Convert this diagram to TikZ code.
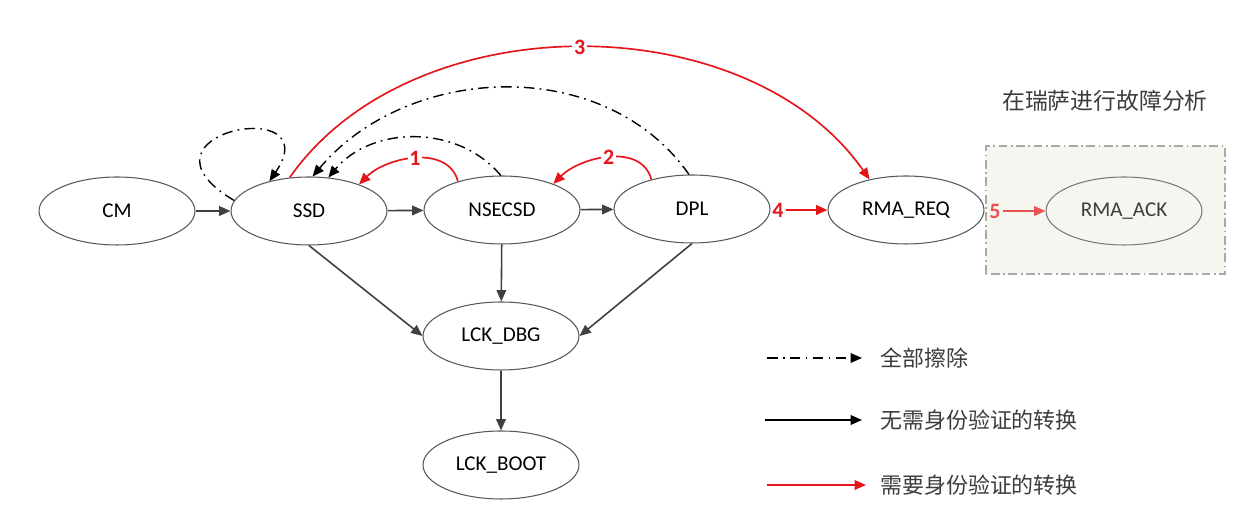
\documentclass[tikz,border=0pt]{standalone}
\usepackage{fontspec}
\setmainfont{Carlito}
\newfontfamily\cjk{Noto Sans CJK SC}
\usetikzlibrary{shapes.geometric,arrows.meta,positioning}
\definecolor{authred}{RGB}{228,22,28}
\definecolor{fadered}{RGB}{232,84,84}
\definecolor{edgegray}{RGB}{64,64,64}
\definecolor{stategray}{RGB}{88,88,88}
\definecolor{boxfill}{RGB}{245,246,240}
\definecolor{boxedge}{RGB}{170,170,165}
\definecolor{legtext}{RGB}{60,60,60}

\begin{document}
\begin{tikzpicture}[x=.02cm,y=.02cm,
    state/.style={ellipse,draw=stategray,line width=.6pt,minimum width=3.12cm,
        minimum height=1.36cm,inner sep=0pt,font=\fontsize{12}{14}\selectfont},
    tip/.style={-{Triangle[length=6.5pt,width=5.5pt]}},
    plain/.style={tip,draw=edgegray,line width=.9pt},
    auth/.style={tip,draw=authred,line width=.95pt},
    erase/.style={tip,draw=black,line width=.8pt,
        dash pattern=on 6pt off 3pt on 1pt off 3pt},
    num/.style={text=authred,inner sep=1pt,
        font=\bfseries\fontsize{12.5}{14}\selectfont},
    legend/.style={right,text=legtext,font=\cjk\fontsize{12.5}{15}\selectfont}]
\useasboundingbox (0,0) rectangle (1258,513);

\fill[boxfill] (986,239) rectangle (1225,367);
\draw[boxedge,line width=.6pt,dash pattern=on 5pt off 2pt on 1pt off 2pt]
    (986,239) rectangle (1225,367);
\node (renesas) [text=legtext,font=\cjk\fontsize{13}{15}\selectfont]
    at (1105,412) {在瑞萨进行故障分析};

\node (cm) [state] at (117,302) {CM};
\node (ssd) [state] at (309,302) {SSD};
\node (nsecsd) [state] at (502,303) {NSECSD};
\node (dpl) [state] at (692,304) {DPL};
\node (rmareq) [state] at (906,303) {RMA\_REQ};
\node (rmaack) [state,draw=stategray!80,text=legtext] at (1124,302) {RMA\_ACK};
\node (lckdbg) [state] at (501,177) {LCK\_DBG};
\node (lckboot) [state] at (501,48) {LCK\_BOOT};

\draw[plain] (cm) -- (ssd);
\draw[plain] (ssd) -- (nsecsd);
\draw[plain] (nsecsd) -- (dpl);
\draw[plain] (ssd.south) -- (lckdbg.west);
\draw[plain] (nsecsd) -- (lckdbg);
\draw[plain] (dpl.south) -- (lckdbg.east);
\draw[plain] (lckdbg) -- (lckboot);

\draw[auth] (nsecsd.147) to[out=105,in=45]
    node (n1) [num,fill=white] {1} (ssd.28);
\draw[auth] (dpl.144) to[out=105,in=45]
    node (n2) [num,fill=white] {2} (nsecsd.27);
\draw[auth] (ssd.120) to[out=55,in=125,looseness=.94]
    node (n3) [num,fill=white] {3} (rmareq.140);
\node (n4) [num] at (778,303) {4};
\draw[auth] (n4) -- (rmareq);
\node (n5) [num,text=fadered] at (995,302) {5};
\draw[auth,draw=fadered] (n5) -- (rmaack);

\draw[erase] (ssd.172) .. controls (120,380) and (330,420) .. (ssd.143);
\draw[erase] (nsecsd.92) to[out=130,in=50] (ssd.60);
\draw[erase] (dpl.95) to[out=125,in=50] (ssd.84);

\coordinate (l1s) at (767,155); \coordinate (l1e) at (862,155);
\coordinate (l2s) at (765,93); \coordinate (l2e) at (862,93);
\coordinate (l3s) at (767,28); \coordinate (l3e) at (866,28);
\draw[erase] (l1s) -- (l1e);
\draw[plain,draw=black] (l2s) -- (l2e);
\draw[auth] (l3s) -- (l3e);
\node (leg1) [legend] at (874,155) {全部擦除};
\node (leg2) [legend] at (874,93) {无需身份验证的转换};
\node (leg3) [legend] at (874,28) {需要身份验证的转换};
\end{tikzpicture}
\end{document}
